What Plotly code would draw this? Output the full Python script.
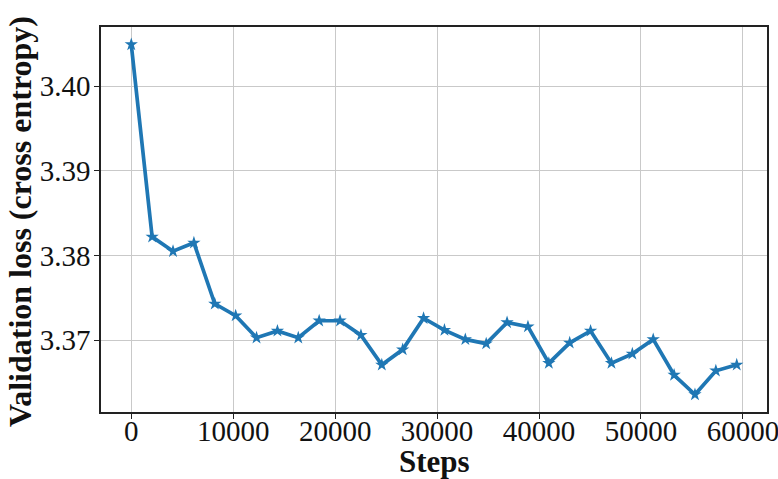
import plotly.graph_objects as go

# Evaluation every 2048 optimisation steps
steps = [i * 2048 for i in range(30)]
val_loss = [
    3.4049, 3.3822, 3.3805, 3.3815, 3.3743, 3.3729, 3.3703, 3.3711, 3.3703, 3.3723,
    3.3723, 3.3706, 3.3671, 3.3689, 3.3726, 3.3712, 3.3701, 3.3696, 3.3721, 3.3716,
    3.3673, 3.3697, 3.3711, 3.3673, 3.3684, 3.3701, 3.3659, 3.3636, 3.3664, 3.3671,
]
x_ticks = [0, 10000, 20000, 30000, 40000, 50000, 60000]
y_ticks = [3.37, 3.38, 3.39, 3.40]

BLUE = "#1f77b4"
FONT = "Liberation Serif"
INK = "#111111"

fig = go.Figure(
    go.Scatter(
        x=steps,
        y=val_loss,
        mode="lines+markers",
        line=dict(color=BLUE, width=3.7),
        marker=dict(symbol="star", size=10, color=BLUE),
        showlegend=False,
    )
)

# 5% padding around the data, like matplotlib's default margins
x_pad = (max(steps) - min(steps)) * 0.05
y_pad = (max(val_loss) - min(val_loss)) * 0.05

axis_common = dict(
    automargin=False,
    showline=True,
    linecolor="#222222",
    linewidth=1.5,
    mirror=True,
    ticks="outside",
    ticklen=5,
    tickwidth=1.2,
    tickcolor="#222222",
    showgrid=True,
    gridcolor="#c9c9c9",
    gridwidth=1.3,
    zeroline=False,
    ticklabeloverflow="allow",
    tickfont=dict(family=FONT, size=29, color=INK),
)

fig.update_layout(
    width=778,
    height=479,
    margin=dict(l=101, r=11, t=27, b=67),
    paper_bgcolor="white",
    plot_bgcolor="white",
    xaxis=dict(
        range=[min(steps) - x_pad, max(steps) + x_pad],
        tickvals=x_ticks,
        ticktext=[str(v) for v in x_ticks],
        ticklabelstandoff=-13,
        **axis_common,
    ),
    yaxis=dict(
        range=[min(val_loss) - y_pad, max(val_loss) + y_pad],
        tickvals=y_ticks,
        ticktext=[f"{v:.2f}" for v in y_ticks],
        ticklabelstandoff=-2,
        **axis_common,
    ),
    annotations=[
        dict(
            text="<b>Steps</b>",
            xref="paper", yref="paper",
            x=0.5, y=-0.1286,
            xanchor="center", yanchor="middle",
            showarrow=False,
            font=dict(family=FONT, size=31, color=INK),
        ),
        dict(
            text="<b>Validation loss (cross entropy)</b>",
            xref="paper", yref="paper",
            x=-0.1216, y=0.4935,
            xanchor="center", yanchor="middle",
            textangle=-90,
            showarrow=False,
            font=dict(family=FONT, size=32, color=INK),
        ),
    ],
)

fig.write_html("out.html")
